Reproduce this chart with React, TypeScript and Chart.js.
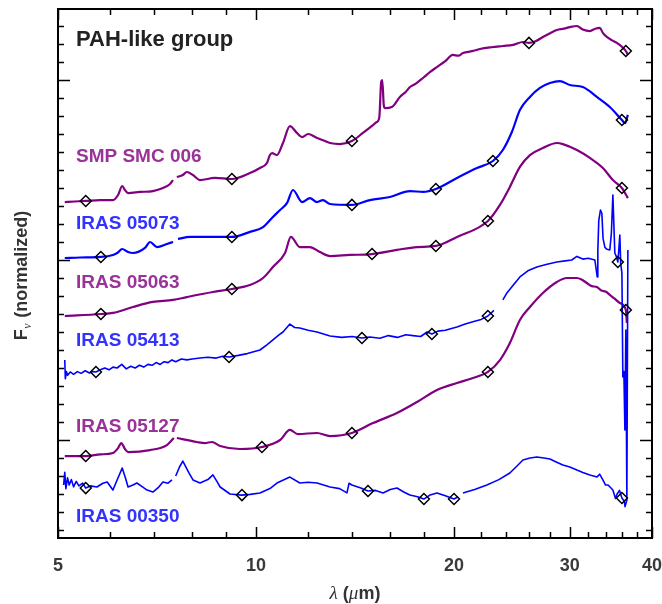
import React, { useEffect, useRef } from 'react';
import { Chart, registerables } from 'chart.js';
Chart.register(...registerables);

// ---------- data (wavelength in micron, offset normalized flux) ----------
const X_TICKS = [5, 6, 7, 8, 9, 10, 12, 14, 16, 18, 20, 22, 24, 26, 28, 30, 32, 34, 36, 38, 40];
const X_LABELS = [5, 10, 20, 30, 40];
const Y_TICKS = [5, 6, 7, 8, 9, 10, 11, 12, 13, 14, 15, 16, 17, 18, 19, 20, 21, 22, 23, 24, 25, 26, 27, 28, 29, 30, 31, 32, 33];
const Y_MIN = 4.556;
const Y_MAX = 33.944;

const NAMES = ['SMP SMC 006', 'IRAS 05073', 'IRAS 05063', 'IRAS 05413', 'IRAS 05127', 'IRAS 00350'];

const SMP_SMC_006: [number, number | null][] = [
  [5.12, 23.22], [5.3, 23.25], [5.51, 23.28], [5.79, 23.33], [6.06, 23.33], [6.17, 23.61], [6.26, 24.11],
  [6.32, 23.89], [6.39, 23.72], [6.66, 23.78], [6.97, 23.83], [7.22, 24.0], [7.4, 24.22], [7.48, 24.44],
  [7.53, null], [7.58, 24.61], [7.74, 24.72], [7.85, 24.89], [8.02, 24.72], [8.22, 24.44], [8.66, 24.56],
  [9.19, 24.5], [9.79, 24.83], [10.14, 25.11], [10.39, 25.39], [10.5, 25.83], [10.58, 25.94], [10.76, 25.83],
  [10.99, 26.5], [11.26, 27.44], [11.54, 27.06], [11.75, 26.83], [12.0, 27.0], [12.38, 26.78], [12.73, 26.61],
  [12.96, 26.5], [13.42, 26.44], [13.99, 26.61], [14.54, 27.06], [15.27, 27.67], [15.4, 27.94], [15.5, 29.9],
  [15.56, 30.0], [15.64, 28.6], [15.7, 28.44], [16.09, 28.5], [16.55, 29.06], [16.9, 29.35], [17.14, 29.61],
  [17.5, 29.8], [17.94, 30.11], [18.4, 30.45], [18.84, 30.72], [19.4, 31.05], [19.92, 31.39], [20.3, 31.35],
  [20.64, 31.5], [21.3, 31.6], [21.9, 31.72], [22.8, 31.82], [23.73, 31.89], [24.6, 31.95], [25.46, 32.11],
  [26.0, 32.06], [26.6, 32.15], [27.3, 32.39], [28.0, 32.6], [28.67, 32.78], [29.4, 32.85], [30.01, 32.94],
  [30.75, 33.0], [31.4, 32.8], [32.18, 32.72], [32.8, 32.85], [33.33, 32.89], [33.7, 32.6], [34.15, 32.39],
  [34.8, 32.2], [35.37, 32.06], [36.0, 31.85], [36.5, 31.61], [36.76, 31.39],
];

const IRAS_05073: [number, number | null][] = [
  [5.12, 20.11], [5.4, 20.14], [5.81, 20.17], [6.06, 20.28], [6.16, 20.4], [6.26, 20.61], [6.39, 20.44],
  [6.5, 20.39], [6.78, 20.67], [6.9, 21.0], [7.07, 20.72], [7.32, 20.89], [7.48, 21.0], [7.54, null],
  [7.61, 21.17], [7.94, 21.28], [8.6, 21.28], [9.19, 21.28], [9.79, 21.56], [10.25, 21.83], [10.61, 22.39],
  [10.88, 22.78], [11.15, 23.17], [11.38, 23.89], [11.75, 23.22], [12.08, 23.44], [12.38, 23.22],
  [12.64, 23.33], [12.96, 23.11], [13.99, 23.06], [14.9, 23.33], [15.98, 23.5], [17.14, 23.83],
  [17.94, 23.78], [18.77, 23.94], [20.21, 24.56], [21.67, 25.11], [22.92, 25.5], [23.73, 26.11],
  [24.49, 27.11], [25.19, 28.33], [26.09, 29.06], [27.02, 29.56], [27.98, 29.83], [28.97, 29.94],
  [30.01, 29.72], [31.4, 29.61], [32.98, 29.06], [34.51, 28.5], [36.0, 27.78], [36.4, 27.6], [36.76, 28.06],
];

const IRAS_05063: [number, number | null][] = [
  [5.12, 16.89], [5.81, 17.0], [6.06, 17.06], [6.5, 17.39], [6.97, 17.67], [7.48, 17.78], [7.85, 17.94],
  [8.6, 18.22], [9.19, 18.39], [9.79, 18.61], [10.25, 19.0], [10.61, 19.61], [11.07, 20.39], [11.3, 21.28],
  [11.66, 20.72], [12.08, 20.72], [12.51, 20.44], [12.96, 20.22], [13.89, 20.28], [15.01, 20.33],
  [16.38, 20.56], [17.57, 20.72], [18.77, 20.78], [20.21, 21.28], [22.52, 22.17], [23.49, 23.06],
  [24.32, 24.06], [25.19, 25.17], [26.09, 25.83], [27.3, 26.22], [28.67, 26.5], [29.28, 26.44],
  [30.75, 26.11], [32.18, 25.67], [33.68, 25.11], [34.88, 24.44], [36.0, 24.0], [36.76, 23.44],
];

const IRAS_05413: [number, number | null][] = [
  [5.12, 14.44], [5.13, 13.4], [5.15, 13.8], [5.17, 13.6], [5.22, 13.78], [5.28, 13.65], [5.35, 13.8],
  [5.42, 13.7], [5.5, 13.85], [5.58, 13.72], [5.65, 13.8], [5.71, 13.78], [5.8, 13.9], [5.89, 14.0],
  [5.98, 13.9], [6.06, 14.05], [6.15, 14.0], [6.25, 14.2], [6.35, 13.95], [6.45, 14.1], [6.55, 14.0],
  [6.65, 14.15], [6.75, 14.05], [6.85, 14.2], [6.95, 14.15], [7.05, 14.3], [7.15, 14.2], [7.25, 14.35],
  [7.35, 14.3], [7.45, 14.45], [7.55, 14.35], [7.7, 14.5], [7.85, 14.45], [8.0, 14.5], [8.22, 14.56],
  [8.45, 14.6], [8.7, 14.55], [8.9, 14.65], [9.1, 14.61], [9.4, 14.7], [9.7, 14.8], [10.14, 15.0],
  [10.4, 15.3], [10.61, 15.56], [10.85, 15.85], [10.99, 16.0], [11.26, 16.44], [11.45, 16.25],
  [11.66, 16.22], [12.0, 16.1], [12.38, 16.0], [12.96, 15.78], [13.5, 15.7], [14.0, 15.75], [14.49, 15.67],
  [14.9, 15.72], [15.43, 15.65], [15.9, 15.8], [16.4, 15.7], [16.9, 15.85], [17.32, 15.8], [17.8, 15.75],
  [18.2, 16.0], [18.51, 15.89], [18.9, 16.05], [19.4, 16.1], [20.21, 16.28], [20.8, 16.45], [21.5, 16.6],
  [22.0, 16.7], [22.52, 16.89], [23.0, 17.2], [23.4, null], [23.73, 17.78], [24.07, 18.17], [24.6, 18.6],
  [25.19, 19.06], [25.9, 19.4], [26.73, 19.61], [27.6, 19.75], [28.67, 19.89], [29.5, 19.95], [30.2, 20.0],
  [30.75, 20.2], [31.4, 20.05], [32.0, 20.1], [32.75, 20.0], [33.02, 19.06], [33.09, 20.5], [33.2, 22.2],
  [33.4, 22.78], [33.56, 22.6], [33.7, 21.2], [33.92, 20.7], [34.15, 20.6], [34.51, 20.56], [34.7, 21.5],
  [34.88, 23.61], [35.0, 22.0], [35.12, 20.39], [35.3, 20.2], [35.49, 19.89], [35.6, 20.5], [35.74, 21.39],
  [35.85, 19.8], [36.0, 19.28], [36.12, 13.5], [36.25, 13.8], [36.38, 10.56], [36.5, 16.11], [36.63, 6.67],
  [36.76, 20.56],
];

const IRAS_05127: [number, number | null][] = [
  [5.12, 9.11], [5.51, 9.11], [5.8, 9.2], [6.06, 9.28], [6.17, 9.55], [6.24, 9.83], [6.32, 9.5],
  [6.39, 9.33], [6.9, 9.44], [7.32, 9.72], [7.5, 10.11], [7.54, null], [7.58, 10.11], [8.13, 9.89],
  [8.36, 9.83], [8.57, 9.89], [8.82, 9.67], [9.45, 9.5], [10.21, 9.61], [10.88, 10.0], [11.26, 10.56],
  [11.58, 10.33], [12.38, 10.39], [12.96, 10.22], [13.99, 10.39], [15.06, 10.94], [16.38, 11.5],
  [17.57, 12.11], [18.84, 12.78], [20.21, 13.17], [21.37, 13.44], [22.52, 13.78], [23.49, 14.44],
  [24.32, 15.39], [25.19, 16.67], [26.09, 17.39], [27.3, 18.17], [28.67, 18.78], [29.69, 19.0],
  [30.75, 19.0], [31.3, 18.9], [31.84, 18.72], [32.4, 18.55], [32.98, 18.5], [33.5, 18.3], [34.0, 18.25],
  [34.51, 18.06], [35.1, 17.85], [35.74, 17.61], [36.5, 17.22], [36.63, 16.5],
];

const IRAS_00350: [number, number | null][] = [
  [5.1, 7.5], [5.12, 8.2], [5.14, 7.3], [5.17, 7.9], [5.2, 7.5], [5.24, 7.8], [5.28, 7.4], [5.33, 7.7],
  [5.38, 7.45], [5.45, 7.6], [5.51, 7.33], [5.6, 7.45], [5.73, 7.39], [5.85, 7.6], [5.94, 7.67],
  [6.06, 7.22], [6.17, 7.9], [6.26, 8.44], [6.33, 7.9], [6.39, 7.39], [6.5, 7.5], [6.59, 7.61], [6.72, 7.4],
  [6.83, 7.22], [6.97, 7.11], [7.1, 7.35], [7.22, 7.67], [7.35, 7.6], [7.45, 7.78], [7.5, null],
  [7.55, 8.0], [7.65, 8.5], [7.74, 8.83], [7.9, 8.2], [8.02, 7.78], [8.22, 7.61], [8.45, 7.8], [8.6, 8.06],
  [8.72, 7.7], [8.82, 7.39], [9.13, 7.0], [9.52, 6.94], [9.8, 6.98], [10.14, 7.06], [10.5, 7.3],
  [10.76, 7.61], [11.26, 7.94], [11.66, 7.61], [12.0, 7.65], [12.38, 7.61], [12.96, 7.39], [13.4, 7.3],
  [13.75, 7.06], [13.85, 7.6], [13.99, 7.5], [14.4, 7.35], [14.8, 7.17], [15.2, 7.2], [15.6, 7.06],
  [16.0, 7.25], [16.38, 7.33], [16.8, 7.1], [17.14, 6.94], [17.6, 6.85], [18.0, 6.72], [18.4, 6.95],
  [18.84, 7.06], [19.4, 6.9], [20.0, 6.72], [20.3, 6.85], [20.45, null], [20.64, 7.06], [21.5, 7.25],
  [22.44, 7.5], [23.4, 7.8], [24.32, 8.17], [25.0, 8.6], [25.46, 8.89], [26.1, 9.0], [26.73, 9.06],
  [27.4, 9.0], [27.98, 8.94], [28.6, 8.78], [29.28, 8.61], [30.0, 8.5], [30.75, 8.33], [31.4, 8.2],
  [32.18, 8.06], [33.0, 7.95], [33.3, 8.1], [33.68, 7.78], [34.0, 7.5], [34.3, 7.5], [34.88, 7.22],
  [35.2, 6.75], [35.4, 7.0], [35.7, 7.2], [36.0, 6.78], [36.3, 6.6], [36.4, 6.3], [36.63, 6.67],
];

const DIAMONDS_SMP_SMC_006 = [[5.51, 23.28], [9.19, 24.5], [13.99, 26.61], [26.0, 32.06], [36.5, 31.61]];
const DIAMONDS_IRAS_05073 = [[5.81, 20.17], [9.19, 21.28], [13.99, 23.06], [18.77, 23.94], [22.92, 25.5], [36.0, 27.78]];
const DIAMONDS_IRAS_05063 = [[5.81, 17.0], [9.19, 18.39], [15.01, 20.33], [18.77, 20.78], [22.52, 22.17], [36.0, 24.0]];
const DIAMONDS_IRAS_05413 = [[5.71, 13.78], [9.1, 14.61], [14.49, 15.67], [18.51, 15.89], [22.52, 16.89], [35.49, 19.89]];
const DIAMONDS_IRAS_05127 = [[5.51, 9.11], [10.21, 9.61], [13.99, 10.39], [22.52, 13.78], [36.5, 17.22]];
const DIAMONDS_IRAS_00350 = [[5.51, 7.33], [9.52, 6.94], [14.8, 7.17], [18.0, 6.72], [20.0, 6.72], [36.0, 6.78]];

// ---------- styling ----------
const PURPLE = '#800080';
const BLUE = '#0000ff';
const PURPLE_TEXT = '#993399';
const BLUE_TEXT = '#3333ff';

const SERIES = [
  { name: NAMES[0], pts: SMP_SMC_006, dia: DIAMONDS_SMP_SMC_006, color: PURPLE, text: PURPLE_TEXT, w: 2.2, smooth: true, labelY: 162 },
  { name: NAMES[1], pts: IRAS_05073, dia: DIAMONDS_IRAS_05073, color: BLUE, text: BLUE_TEXT, w: 2.2, smooth: true, labelY: 229 },
  { name: NAMES[2], pts: IRAS_05063, dia: DIAMONDS_IRAS_05063, color: PURPLE, text: PURPLE_TEXT, w: 2.2, smooth: true, labelY: 288 },
  { name: NAMES[3], pts: IRAS_05413, dia: DIAMONDS_IRAS_05413, color: BLUE, text: BLUE_TEXT, w: 1.6, smooth: false, labelY: 346 },
  { name: NAMES[4], pts: IRAS_05127, dia: DIAMONDS_IRAS_05127, color: PURPLE, text: PURPLE_TEXT, w: 2.2, smooth: true, labelY: 432 },
  { name: NAMES[5], pts: IRAS_00350, dia: DIAMONDS_IRAS_00350, color: BLUE, text: BLUE_TEXT, w: 1.6, smooth: false, labelY: 522 },
];

const SANS = '"Liberation Sans", Arial, Helvetica, sans-serif';
const SERIF = '"Liberation Serif", "Times New Roman", serif';

const decorPlugin = {
  id: 'decor',
  afterDraw(chart: any) {
    const { ctx, chartArea: a, scales } = chart;
    const xs = scales.x;
    const ys = scales.y;
    ctx.save();
    ctx.strokeStyle = '#000';
    ctx.lineWidth = 2;
    ctx.strokeRect(a.left, a.top, a.right - a.left, a.bottom - a.top);
    ctx.lineWidth = 1.5;
    ctx.beginPath();
    for (const t of X_TICKS) {
      const px = Math.round(xs.getPixelForValue(t)) + 0.5;
      const len = X_LABELS.includes(t) ? 11 : 6;
      ctx.moveTo(px, a.bottom);
      ctx.lineTo(px, a.bottom - len);
      ctx.moveTo(px, a.top);
      ctx.lineTo(px, a.top + len);
    }
    for (const t of Y_TICKS) {
      const py = Math.round(ys.getPixelForValue(t)) + 0.5;
      const len = t % 10 === 0 ? 12 : 6;
      ctx.moveTo(a.left, py);
      ctx.lineTo(a.left + len, py);
      ctx.moveTo(a.right, py);
      ctx.lineTo(a.right - len, py);
    }
    ctx.stroke();

    // group title
    ctx.textBaseline = 'alphabetic';
    ctx.textAlign = 'left';
    ctx.fillStyle = '#222';
    ctx.font = `bold 22px ${SANS}`;
    ctx.fillText('PAH-like group', a.left + 18, 46);

    // series labels
    ctx.font = `bold 19px ${SANS}`;
    for (const s of SERIES) {
      ctx.fillStyle = s.text;
      ctx.fillText(s.name, a.left + 18, s.labelY);
    }

    // x-axis title: λ (μm)
    const xParts: [string, string][] = [
      ['λ', `italic 19px ${SERIF}`],
      [' (', `bold 18px ${SANS}`],
      ['μ', `italic 19px ${SERIF}`],
      ['m)', `bold 18px ${SANS}`],
    ];
    let total = 0;
    for (const [t, f] of xParts) { ctx.font = f; total += ctx.measureText(t).width; }
    let cx = (a.left + a.right) / 2 - total / 2;
    ctx.fillStyle = '#333';
    for (const [t, f] of xParts) { ctx.font = f; ctx.fillText(t, cx, 599); cx += ctx.measureText(t).width; }

    // y-axis title: F_ν (normalized)
    ctx.translate(27, (a.top + a.bottom) / 2 + 2);
    ctx.rotate(-Math.PI / 2);
    const fMain = `bold 18px ${SANS}`;
    const fSub = `italic 12px ${SERIF}`;
    ctx.font = fMain; const w1 = ctx.measureText('F').width; const w3 = ctx.measureText(' (normalized)').width;
    ctx.font = fSub; const w2 = ctx.measureText('ν').width + 1;
    let ty = -(w1 + w2 + w3) / 2;
    ctx.font = fMain; ctx.fillText('F', ty, 0); ty += w1;
    ctx.font = fSub; ctx.fillText('ν', ty + 0.5, 4); ty += w2;
    ctx.font = fMain; ctx.fillText(' (normalized)', ty, 0);
    ctx.restore();
  },
};

export default function App() {
  const ref = useRef<HTMLCanvasElement | null>(null);
  useEffect(() => {
    if (!ref.current) return;
    const datasets: any[] = [];
    for (const s of SERIES) {
      datasets.push({
        type: 'line',
        label: s.name,
        data: s.pts.map(([x, y]) => ({ x, y })),
        borderColor: s.color,
        borderWidth: s.w,
        pointRadius: 0,
        spanGaps: false,
        tension: 0,
        cubicInterpolationMode: s.smooth ? 'monotone' : 'default',
        borderJoinStyle: 'round',
        order: 1,
      });
      datasets.push({
        type: 'line',
        label: s.name + ' photometry',
        data: s.dia.map(([x, y]) => ({ x, y })),
        showLine: false,
        pointStyle: 'rectRot',
        pointRadius: 5.5,
        pointBorderColor: '#000',
        pointBackgroundColor: 'rgba(0,0,0,0)',
        pointBorderWidth: 1.5,
        order: 0,
      });
    }
    const chart = new Chart(ref.current, {
      type: 'line',
      data: { datasets },
      options: {
        animation: false,
        responsive: false,
        maintainAspectRatio: false,
        parsing: true,
        layout: { padding: { top: 9, right: 10, left: 0, bottom: 0 } },
        plugins: { legend: { display: false }, tooltip: { enabled: false } },
        scales: {
          x: {
            type: 'logarithmic',
            min: 5,
            max: 40,
            position: 'bottom',
            grid: { display: false, drawTicks: false },
            border: { display: true, color: '#000', width: 2 },
            ticks: {
              autoSkip: false,
              maxRotation: 0,
              minRotation: 0,
              padding: 17,
              color: '#3a3a3a',
              font: { family: SANS, size: 18, weight: 'bold' },
              callback: (v: any) => (X_LABELS.includes(Number(v)) ? String(v) : ''),
            },
            afterBuildTicks: (scale: any) => {
              scale.ticks = X_TICKS.map((v) => ({ value: v }));
            },
            afterFit: (scale: any) => {
              scale.height = 66;
              scale.paddingLeft = 0;
              scale.paddingRight = 0;
            },
          },
          y: {
            type: 'linear',
            min: Y_MIN,
            max: Y_MAX,
            position: 'left',
            grid: { display: false, drawTicks: false },
            border: { display: true, color: '#000', width: 2 },
            ticks: { display: false },
            afterBuildTicks: (scale: any) => {
              scale.ticks = Y_TICKS.map((v) => ({ value: v }));
            },
            afterFit: (scale: any) => {
              scale.width = 58;
              scale.paddingTop = 0;
              scale.paddingBottom = 0;
            },
          },
        },
      },
      plugins: [decorPlugin],
    } as any);
    return () => chart.destroy();
  }, []);
  return (
    <div style={{ position: 'fixed', left: 0, top: 0, width: 662, height: 604, background: '#fff' }}>
      <canvas ref={ref} width={662} height={604} style={{ display: 'block', width: 662, height: 604 }} />
    </div>
  );
}
